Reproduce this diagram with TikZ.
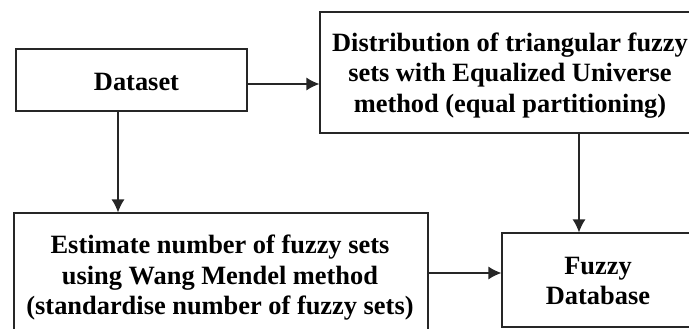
\documentclass[tikz,border=0pt]{standalone}
\usepackage{fontspec}
\setmainfont{Liberation Serif}
\usetikzlibrary{arrows.meta}
\definecolor{ink}{HTML}{262626}
\tikzset{
  x=1pt,y=-1pt,
  box/.style={draw=ink,line width=1.2pt,fill=white,inner sep=0pt},
  boxtext/.style={inner sep=0pt,align=center,font=\fontsize{26.4}{30.5}\selectfont\bfseries,text=black},
  conn/.style={draw=ink,line width=1.3pt,-{Latex[length=13pt,width=13pt]}}
}
\begin{document}
\begin{tikzpicture}
\useasboundingbox (0,0) rectangle (689,329);
\node[box,minimum width=231pt,minimum height=62pt,label={[boxtext,yshift=-2pt,xshift=5pt]center:Dataset}] (data) at (131.5,80) {};
\node[box,minimum width=380pt,minimum height=121pt,label={[boxtext,yshift=-3pt]center:Distribution of triangular fuzzy\\sets with Equalized Universe\\method (equal partitioning)}] (dist) at (510,72.5) {};
\node[box,minimum width=414pt,minimum height=132pt,label={[boxtext,yshift=1pt,xshift=-1pt]center:Estimate number of fuzzy sets\\using Wang Mendel method\\(standardise number of fuzzy sets)}] (est) at (221,279) {};
\node[box,minimum width=192pt,minimum height=94pt,label={[boxtext,yshift=-1pt]center:Fuzzy\\Database}] (db) at (598,280) {};
\coordinate (dstart) at (data.south -| 118,0);
\coordinate (dend) at (est.north -| 118,0);
\coordinate (estart) at (dist.south -| 579,0);
\coordinate (eend) at (db.north -| 579,0);
\coordinate (a1) at (data.east |- 0,84);
\coordinate (a2) at (dist.west |- 0,84);
\coordinate (b1) at (est.east |- 0,273);
\coordinate (b2) at (db.west |- 0,273);
\draw[conn] (a1) -- (a2);
\draw[conn] (dstart) -- (dend);
\draw[conn] (estart) -- (eend);
\draw[conn] (b1) -- (b2);
\end{tikzpicture}
\end{document}
